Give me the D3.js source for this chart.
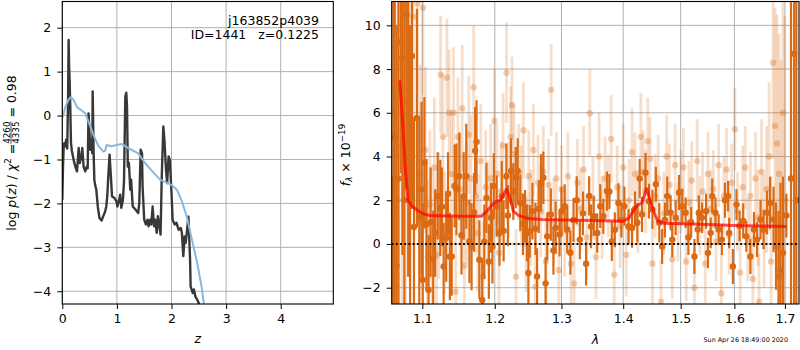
<!DOCTYPE html>
<html>
<head>
<meta charset="utf-8">
<script src="https://cdn.jsdelivr.net/npm/d3@7"></script>
<style>
body { margin: 0; background: #fff; }
svg text { font-family: "DejaVu Sans", sans-serif; }
</style>
</head>
<body>
<svg id="chart" width="800" height="350"></svg>
<script>
// ---- p(z) panel ----
var pzZ = [0, 0.012, 0.024, 0.037, 0.055, 0.07, 0.09, 0.105, 0.116, 0.125,
	0.134, 0.146, 0.159, 0.175, 0.195, 0.215, 0.238, 0.269, 0.285, 0.30,
	0.32, 0.35, 0.366, 0.39, 0.42, 0.45, 0.465, 0.48, 0.495, 0.51,
	0.53, 0.55, 0.556, 0.574, 0.587, 0.605, 0.623, 0.65, 0.68, 0.72,
	0.75, 0.78, 0.806, 0.825, 0.842, 0.866, 0.89, 0.91, 0.95, 0.99,
	1.01, 1.04, 1.06, 1.08, 1.11, 1.13, 1.154, 1.172, 1.185, 1.20,
	1.22, 1.245, 1.26, 1.29, 1.34, 1.39, 1.41, 1.435, 1.46, 1.47,
	1.50, 1.53, 1.56, 1.58, 1.61, 1.63, 1.654, 1.68, 1.70, 1.73,
	1.75, 1.77, 1.80, 1.82, 1.85, 1.87, 1.90, 1.92, 1.947, 1.97,
	2.00, 2.02, 2.06, 2.09, 2.13, 2.17, 2.19, 2.216, 2.24, 2.26,
	2.28, 2.31, 2.34, 2.35, 2.39, 2.41, 2.44, 2.47, 2.51, 2.56];
var pzLog = [-1.92, -1.2, -0.75, -0.63, -0.70, -0.55, -0.75, 0.3, 1.72, 1.1,
	0.81, 0.20, -0.63, -0.8, -0.93, -1.05, -1.16, -1.27, -1.0, -0.74,
	-1.08, -0.93, -0.74, -1.16, -1.27, -1.16, -1.2, 0.05, -0.3, -0.78,
	-0.55, -0.86, 0.55, -0.86, -1.47, -1.6, -1.69, -2.07, -2.33, -2.39,
	-2.29, -2.2, -2.07, -1.8, -1.39, -0.89, -1.39, -1.84, -1.87, -1.95,
	-2.07, -1.92, -1.8, -2.1, -1.92, -1.5, 0.43, 0.52, 0.2, -1.16,
	-1.08, -1.69, -1.46, -2.07, -2.14, -2.22, -1.99, -0.78, -0.86, -1.61,
	-2.37, -2.48, -2.37, -2.52, -2.37, -2.48, -2.07, -2.52, -2.37, -2.67,
	-2.29, -2.44, -2.71, -1.46, -0.25, -0.55, -1.24, -1.54, -0.93, -1.01,
	-1.76, -2.37, -2.48, -2.44, -2.60, -2.56, -2.67, -3.20, -2.75, -2.90,
	-2.67, -2.30, -3.28, -3.89, -4.04, -3.96, -4.13, -4.19, -4.30, -4.7];
var priorZ = [0, 0.02, 0.05, 0.085, 0.12, 0.158, 0.21, 0.27, 0.36, 0.42,
	0.48, 0.57, 0.66, 0.755, 0.785, 0.81, 0.9, 1.0, 1.09, 1.21,
	1.39, 1.515, 1.65, 1.79, 1.9, 2.0, 2.1, 2.19, 2.28, 2.375,
	2.47, 2.55, 2.59, 2.66];
var priorLog = [-0.05, 0.02, 0.17, 0.28, 0.37, 0.42, 0.35, 0.19, 0.11, 0.05,
	-0.14, -0.44, -0.69, -0.82, -0.80, -0.67, -0.70, -0.67, -0.65, -0.74,
	-0.86, -1.08, -1.27, -1.46, -1.52, -1.58, -1.69, -1.95, -2.30, -2.83,
	-3.35, -3.89, -4.26, -4.9];
var zTicks = [0, 1, 2, 3, 4];
var logTicks = [-4, -3, -2, -1, 0, 1, 2];

// ---- spectrum panel ----
var darkWave = [1.0605, 1.0625, 1.0642, 1.0665, 1.0690, 1.0719, 1.0740, 1.0765, 1.0792, 1.0815,
	1.0840, 1.0864, 1.0890, 1.0929, 1.0960, 1.0990, 1.1006, 1.1027, 1.1055, 1.1083,
	1.1110, 1.1145, 1.1170, 1.1205, 1.1240, 1.1262, 1.1285, 1.1320, 1.1345, 1.1370,
	1.1395, 1.1436, 1.1460, 1.1500, 1.1530, 1.1560, 1.1596, 1.1640, 1.1670, 1.1705,
	1.1720, 1.1740, 1.1780, 1.1820, 1.1850, 1.1880, 1.1915, 1.1945, 1.1966, 1.1986,
	1.2027, 1.2068, 1.2101, 1.2128, 1.2168, 1.2190, 1.2236, 1.2270, 1.2306, 1.2334,
	1.2373, 1.2413, 1.2444, 1.2473, 1.2494, 1.2514, 1.2555, 1.2600, 1.2625, 1.2650,
	1.2685, 1.2720, 1.2755, 1.2780, 1.2835, 1.2875, 1.2910, 1.2970, 1.3000, 1.3050,
	1.3090, 1.3140, 1.3190, 1.3240, 1.3290, 1.3340, 1.3390, 1.3440, 1.3470, 1.3513,
	1.3570, 1.3620, 1.3670, 1.3730, 1.3770, 1.3810, 1.3860, 1.3920, 1.3970, 1.4020,
	1.4090, 1.4150, 1.4200, 1.4240, 1.4280, 1.4320, 1.4380, 1.4440, 1.4500, 1.4560,
	1.4620, 1.4670, 1.4720, 1.4760, 1.4820, 1.4850, 1.4910, 1.4970, 1.5030, 1.5090,
	1.5140, 1.5190, 1.5250, 1.5310, 1.5330, 1.5390, 1.5465, 1.5500, 1.5550, 1.5580,
	1.5640, 1.5700, 1.5760, 1.5820, 1.5880, 1.5900, 1.5970, 1.6040, 1.6100, 1.6170,
	1.6230, 1.6310, 1.6380, 1.6440, 1.6510, 1.6570, 1.6640, 1.6700, 1.6770, 1.6820,
	1.6870, 1.6910, 1.6960, 1.7030, 1.7125, 1.7190, 1.7235];
var darkFlux = [0.0, 1.5, 4.87, -1.0, 3.0, 9.24, 8.5, 2.0, 10.5, 6.5,
	3.0, 8.6, 0.78, 5.76, 1.2, 2.5, -1.64, 3.72, 0.9, -2.1,
	1.0, -0.68, 0.5, 2.2, 1.65, 1.7, -1.03, 0.27, 2.3, -0.57,
	-0.57, 2.65, 2.5, 3.1, 0.4, 2.19, 3.1, 0.12, -0.12, 1.45,
	4.26, 4.67, -0.72, -2.56, 0.1, 2.1, -0.8, 1.2, -0.11, 2.65,
	1.73, 0.5, 2.19, 0.6, 3.1, 1.3, 3.34, 2.4, 3.03, 3.34,
	1.88, 0.9, 1.27, 0.5, -1.33, 0.58, 1.5, 0.7, -1.49, 1.6,
	2.8, 3.03, -1.8, 0.35, 1.35, -0.3, 0.74, 0.43, 1.5, 1.73,
	0.66, -0.4, 1.1, 2.0, 0.2, 1.4, -0.9, 2.2, 0.8, 1.27,
	0.5, 1.73, 1.27, 2.42, 2.40, 0.12, 0.65, 1.88, 1.1, 1.73,
	0.8, 0.73, 1.6, 0.97, 2.99, 1.35, 3.26, 1.96, 1.58, 2.73,
	0.97, -0.11, 1.1, 2.19, 1.43, 0.2, 1.2, 2.35, 1.73, 1.43,
	0.3, 1.0, -0.57, 0.66, 1.43, 1.2, 1.5, -0.41, 0.51, 2.19,
	1.43, 0.66, 0.2, 2.0, 2.19, 0.5, -1.03, 1.8, 0.82, 1.05,
	0.35, -0.57, 0.66, 0.2, 1.12, 0.66, 1.43, 1.88, 1.12, -0.1,
	-1.49, -1.2, -0.41, 1.3, 3.0, 8.7, 2.0];
var darkErr = [3.1, 12, 9, 11, 10, 6, 9, 12, 8, 8,
	7, 7, 5, 5, 4.5, 4, 3.5, 3, 3, 2.5,
	2.5, 2.2, 2, 2, 2.2, 1.8, 2, 2, 1.9, 2.0,
	1.8, 1.9, 2.1, 2.0, 1.8, 2.0, 2.4, 1.9, 2.0, 1.8,
	2.0, 1.9, 1.8, 1.9, 1.7, 1.6, 1.7, 1.6, 1.7, 1.5,
	1.4, 1.5, 1.6, 1.4, 1.5, 1.4, 1.5, 1.3, 1.4, 1.5,
	1.3, 1.4, 1.2, 1.3, 1.4, 1.2, 1.3, 1.2, 1.3, 1.1,
	1.3, 1.2, 1.2, 1.1, 1.2, 1.1, 1.2, 1.0, 1.1, 1.0,
	1.1, 1.0, 1.0, 1.1, 0.9, 1.0, 1.0, 0.9, 1.0, 0.9,
	0.9, 1.0, 0.8, 0.9, 0.8, 0.9, 0.8, 0.9, 0.8, 0.9,
	0.8, 0.9, 0.8, 0.9, 0.9, 0.8, 0.9, 0.8, 0.9, 0.8,
	0.9, 0.8, 0.8, 0.9, 0.8, 0.8, 0.8, 0.8, 0.8, 0.7,
	0.8, 0.7, 0.8, 0.7, 0.8, 0.7, 0.8, 0.7, 0.7, 0.8,
	0.7, 0.7, 0.7, 0.8, 0.7, 0.7, 0.8, 0.7, 0.7, 0.8,
	0.7, 0.8, 0.8, 0.8, 0.9, 0.9, 1.0, 1.2, 1.5, 2.0,
	3.0, 4.0, 3.5, 1.0, 20, 20, 20];

var lightWave = [1.0630, 1.0680, 1.0735, 1.0780, 1.0830, 1.0880, 1.0935, 1.0970, 1.1009, 1.1040,
	1.1070, 1.1100, 1.1130, 1.1160, 1.1190, 1.1220, 1.1245, 1.1275, 1.1300, 1.1330,
	1.1360, 1.1390, 1.1420, 1.1450, 1.1480, 1.1510, 1.1540, 1.1570, 1.1600, 1.1630,
	1.1660, 1.1700, 1.1730, 1.1760, 1.1800, 1.1830, 1.1870, 1.1900, 1.1940, 1.1995,
	1.2030, 1.2060, 1.2090, 1.2120, 1.2170, 1.2200, 1.2230, 1.2250, 1.2280, 1.2310,
	1.2350, 1.2390, 1.2420, 1.2460, 1.2500, 1.2530, 1.2570, 1.2600, 1.2640, 1.2680,
	1.2720, 1.2760, 1.2800, 1.2840, 1.2880, 1.2920, 1.2960, 1.3000, 1.3050, 1.3100,
	1.3150, 1.3200, 1.3250, 1.3300, 1.3350, 1.3400, 1.3450, 1.3500, 1.3550, 1.3600,
	1.3650, 1.3700, 1.3750, 1.3800, 1.3850, 1.3900, 1.3950, 1.4000, 1.4050, 1.4100,
	1.4150, 1.4200, 1.4250, 1.4300, 1.4340, 1.4380, 1.4420, 1.4460, 1.4500, 1.4550,
	1.4600, 1.4650, 1.4700, 1.4750, 1.4800, 1.4850, 1.4900, 1.4950, 1.5000, 1.5050,
	1.5100, 1.5150, 1.5200, 1.5250, 1.5300, 1.5350, 1.5400, 1.5450, 1.5500, 1.5550,
	1.5600, 1.5650, 1.5700, 1.5750, 1.5800, 1.5850, 1.5900, 1.5950, 1.6010, 1.6060,
	1.6110, 1.6160, 1.6210, 1.6260, 1.6310, 1.6360, 1.6410, 1.6460, 1.6480, 1.6530,
	1.6580, 1.6630, 1.6680, 1.6720, 1.6760, 1.6800, 1.6840, 1.6880, 1.6920, 1.6960,
	1.7000];
var lightFlux = [6.0, 2.0, 4.5, 4.0, 7.0, 10.4, 11.0, 3.2, 10.8, 4.3,
	-0.6, 1.8, 0.2, 3.5, -0.5, 1.3, 7.74, 4.9, 0.5, 7.6,
	6.0, 3.2, 6.0, -2.18, 4.9, 2.5, 6.2, -1.0, 1.9, 5.0,
	3.0, 7.17, 2.2, 0.5, 3.8, -1.5, 2.6, 1.4, 3.0, 5.63,
	3.2, -0.4, 2.4, 4.5, 7.83, 2.5, 4.9, 6.36, 4.1, -1.5,
	3.3, 2.2, 5.2, 0.0, 3.1, 1.2, 4.3, -1.95, 2.8, 1.5,
	3.3, -0.8, 2.7, 7.05, 1.0, 3.0, -1.2, 2.5, 0.6, 3.1,
	-0.9, -1.8, 2.8, 1.6, 3.4, 0.3, 5.98, 2.1, -0.6, 4.0,
	1.2, 3.0, 2.2, 4.8, -1.4, 2.6, 0.8, 3.5, -0.5, 2.0,
	4.2, 3.2, 1.5, 4.9, 3.3, 2.4, 4.7, 3.9, -0.9, 2.2,
	3.0, -2.64, 1.4, 4.0, 2.7, -0.7, 3.6, 1.0, 2.4, 3.5,
	-0.8, 1.9, 2.9, -2.0, 3.8, 1.3, 2.4, -0.9, 3.2, 1.6,
	2.5, 0.1, 3.6, -2.25, 2.2, 3.4, 0.4, 2.8, 5.25, 1.5,
	-1.3, 2.6, 3.5, 0.2, 2.2, -1.6, 3.0, 1.2, -2.64, 3.3,
	0.6, 2.5, 4.0, -0.8, 8.29, 5.4, 4.6, 3.2, 1.0, 6.0,
	2.0];
var lightErr = [8, 9, 9, 9, 7, 6, 5, 5, 4, 3.8,
	3.5, 3.4, 3.2, 3.2, 3.0, 2.9, 2.7, 2.9, 2.8, 2.7,
	2.9, 2.8, 3.0, 2.8, 2.7, 2.6, 2.9, 2.7, 2.8, 2.7,
	2.9, 2.8, 2.6, 2.7, 2.6, 2.5, 2.6, 2.4, 2.5, 2.4,
	2.3, 2.4, 2.3, 2.4, 2.3, 2.2, 2.3, 2.2, 2.3, 2.2,
	2.2, 2.3, 2.2, 2.2, 2.1, 2.2, 2.1, 2.1, 2.2, 2.1,
	2.1, 2.0, 2.1, 2.1, 2.0, 2.1, 2.0, 2.0, 2.1, 2.0,
	2.0, 2.0, 2.0, 1.9, 2.0, 1.9, 2.0, 1.9, 1.9, 2.0,
	1.9, 1.9, 1.9, 2.0, 1.9, 1.9, 1.9, 2.0, 1.9, 1.9,
	2.0, 1.9, 1.9, 2.0, 1.9, 1.9, 2.0, 1.9, 1.9, 1.9,
	2.0, 1.9, 1.9, 1.9, 1.9, 1.8, 1.9, 1.8, 1.9, 1.8,
	1.8, 1.9, 1.8, 1.8, 1.9, 1.8, 1.8, 1.8, 1.9, 1.8,
	1.8, 1.8, 1.9, 1.8, 1.8, 1.9, 1.8, 1.8, 1.9, 1.8,
	1.9, 1.9, 1.9, 1.9, 2.0, 2.0, 2.1, 2.2, 2.2, 2.4,
	2.6, 2.9, 3.4, 3.9, 4.4, 5.4, 5.9, 6.4, 7.4, 7.4,
	8.4];

var modelWave = [1.0706, 1.0745, 1.0775, 1.0812, 1.086, 1.092, 1.1006, 1.11, 1.15, 1.181,
	1.19, 1.20, 1.208, 1.217, 1.222, 1.227, 1.235, 1.2495, 1.27, 1.30,
	1.35, 1.40, 1.41, 1.4225, 1.432, 1.44, 1.449, 1.455, 1.46, 1.47,
	1.50, 1.55, 1.60, 1.65, 1.703];
var modelFlux = [7.48, 5.5, 3.6, 2.0, 1.75, 1.58, 1.38, 1.30, 1.27, 1.27,
	1.55, 1.91, 2.0, 2.5, 2.1, 1.5, 1.3, 1.16, 1.12, 1.10,
	1.07, 1.04, 1.2, 1.73, 1.9, 2.53, 1.7, 1.3, 1.04, 0.95,
	0.93, 0.89, 0.85, 0.82, 0.80];
var waveTicks = [1.1, 1.2, 1.3, 1.4, 1.5, 1.6, 1.7];
var fluxTicks = [-2, 0, 2, 4, 6, 8, 10];

var titleLines = ["j163852p4039", "ID=1441   z=0.1225"];
var stamp = "Sun Apr 26 18:49:00 2020";

// ---- layout ----
var fontSize = 12.5;
var gridColor = "#b0b0b0";
var orange = "#da6a14";
var pz = {left: 62.3, right: 333.3, top: 1.5, bottom: 304};
var sp = {left: 391.7, right: 799, top: 1.5, bottom: 304};

var svg = d3.select("#chart");

var zScale = d3.scaleLinear().domain([0, 4.963]).range([pz.left, pz.right]);
var logScale = d3.scaleLinear().domain([-4.29, 2.596]).range([pz.bottom, pz.top]);
var waveScale = d3.scaleLog().domain([1.0603, 1.729]).range([sp.left, sp.right]);
var fluxScale = d3.scaleLinear().domain([-2.745, 11.09]).range([sp.bottom, sp.top]);

var defs = svg.append("defs");
function addClip(id, box) {
	defs.append("clipPath").attr("id", id).append("rect")
		.attr("x", box.left).attr("y", box.top)
		.attr("width", box.right - box.left).attr("height", box.bottom - box.top);
}
addClip("clipPz", pz);
addClip("clipSp", sp);

function drawGrid(xs, ys, xt, yt, box) {
	var g = svg.append("g");
	g.selectAll(".gx").data(xt).enter().append("line")
		.attr("x1", function(d) { return xs(d); })
		.attr("x2", function(d) { return xs(d); })
		.attr("y1", box.top).attr("y2", box.bottom)
		.attr("stroke", gridColor).attr("stroke-width", 1);
	g.selectAll(".gy").data(yt).enter().append("line")
		.attr("y1", function(d) { return ys(d); })
		.attr("y2", function(d) { return ys(d); })
		.attr("x1", box.left).attr("x2", box.right)
		.attr("stroke", gridColor).attr("stroke-width", 1);
}

function styleAxis(g) {
	g.attr("font-size", fontSize).attr("font-family", '"DejaVu Sans", sans-serif');
	g.select(".domain").remove();
	g.selectAll(".tick line").attr("stroke", "#000").attr("stroke-width", 1);
	g.selectAll(".tick text").attr("fill", "#000");
}

function drawAxes(xs, ys, xt, yt, xfmt, yfmt, box) {
	svg.append("g")
		.attr("transform", "translate(0," + box.bottom + ")")
		.call(d3.axisBottom(xs).tickValues(xt).tickFormat(xfmt).tickSize(5).tickPadding(5))
		.call(styleAxis);
	svg.append("g")
		.attr("transform", "translate(" + box.left + ",0)")
		.call(d3.axisLeft(ys).tickValues(yt).tickFormat(yfmt).tickSize(5).tickPadding(6))
		.call(styleAxis);
	svg.append("rect")
		.attr("x", box.left).attr("y", box.top)
		.attr("width", box.right - box.left).attr("height", box.bottom - box.top)
		.attr("fill", "none").attr("stroke", "#000").attr("stroke-width", 1.1);
}

// ---- left panel ----
drawGrid(zScale, logScale, zTicks, logTicks, pz);

var pzLayer = svg.append("g").attr("clip-path", "url(#clipPz)");
var pzLine = d3.line()
	.x(function(d, i) { return zScale(pzZ[i]); })
	.y(function(d, i) { return logScale(pzLog[i]); });
pzLayer.append("path").datum(pzZ)
	.attr("d", pzLine)
	.attr("fill", "none").attr("stroke", "#383838")
	.attr("stroke-width", 2.4).attr("stroke-linejoin", "round");
var priorLine = d3.line()
	.x(function(d, i) { return zScale(priorZ[i]); })
	.y(function(d, i) { return logScale(priorLog[i]); });
pzLayer.append("path").datum(priorZ)
	.attr("d", priorLine)
	.attr("fill", "none").attr("stroke", "#8ab8dc")
	.attr("stroke-width", 2).attr("stroke-linejoin", "round");

drawAxes(zScale, logScale, zTicks, logTicks, d3.format("d"), d3.format("d"), pz);

svg.append("g").selectAll("text").data(titleLines).enter().append("text")
	.attr("x", 319).attr("y", function(d, i) { return 24.5 + i * 14.5; })
	.attr("text-anchor", "end").attr("font-size", fontSize)
	.style("white-space", "pre")
	.text(function(d) { return d; });

// ---- right panel ----
drawGrid(waveScale, fluxScale, waveTicks, fluxTicks, sp);

var spLayer = svg.append("g").attr("clip-path", "url(#clipSp)");

function drawErrors(wave, flux, err, width, opacity, dotOpacity) {
	var g = spLayer.append("g");
	g.selectAll("line").data(wave).enter().append("line")
		.attr("x1", function(d) { return waveScale(d); })
		.attr("x2", function(d) { return waveScale(d); })
		.attr("y1", function(d, i) { return fluxScale(flux[i] - err[i]); })
		.attr("y2", function(d, i) { return fluxScale(flux[i] + err[i]); })
		.attr("stroke", orange).attr("stroke-width", width)
		.attr("stroke-opacity", opacity);
	g.selectAll("circle").data(wave).enter().append("circle")
		.attr("cx", function(d) { return waveScale(d); })
		.attr("cy", function(d, i) { return fluxScale(flux[i]); })
		.attr("r", 3.2)
		.attr("fill", orange).attr("fill-opacity", dotOpacity);
}
drawErrors(lightWave, lightFlux, lightErr, 2.8, 0.22, 0.32);
drawErrors(darkWave, darkFlux, darkErr, 2.2, 1, 1);

spLayer.append("line")
	.attr("x1", sp.left).attr("x2", sp.right)
	.attr("y1", fluxScale(0)).attr("y2", fluxScale(0))
	.attr("stroke", "#000").attr("stroke-width", 1.8)
	.attr("stroke-dasharray", "1.8,2.4");

var modelLine = d3.line()
	.x(function(d, i) { return waveScale(modelWave[i]); })
	.y(function(d, i) { return fluxScale(modelFlux[i]); });
spLayer.append("path").datum(modelWave)
	.attr("d", modelLine)
	.attr("fill", "none").attr("stroke", "red").attr("stroke-opacity", 0.7)
	.attr("stroke-width", 3).attr("stroke-linejoin", "round");

drawAxes(waveScale, fluxScale, waveTicks, fluxTicks, d3.format(".1f"), d3.format("d"), sp);

// ---- axis labels ----
svg.append("text")
	.attr("x", (pz.left + pz.right) / 2).attr("y", 343)
	.attr("text-anchor", "middle").attr("font-size", fontSize)
	.attr("font-style", "italic").text("z");
svg.append("text")
	.attr("x", (sp.left + sp.right) / 2).attr("y", 344)
	.attr("text-anchor", "middle").attr("font-size", fontSize)
	.attr("font-style", "italic").text("λ");

svg.append("text")
	.attr("x", 788).attr("y", 342)
	.attr("text-anchor", "end").attr("font-size", 6.4)
	.text(stamp);

// left y label: log p(z) / chi^2 = 4260/4335 = 0.98
var small = fontSize * 0.7;
var yl = svg.append("g");
var t1 = yl.append("text").attr("font-size", fontSize).attr("x", 0).attr("y", 0);
t1.append("tspan").text("log ");
t1.append("tspan").attr("font-style", "italic").text("p");
t1.append("tspan").text("(");
t1.append("tspan").attr("font-style", "italic").text("z");
t1.append("tspan").text(") / ");
t1.append("tspan").attr("font-style", "italic").text("χ");
t1.append("tspan").attr("font-size", small).attr("dy", -5).text("2");
t1.append("tspan").attr("dy", 5).text(" = ");
var w1 = t1.node().getComputedTextLength();
var num = yl.append("text").attr("font-size", small).attr("y", -6).text("4260");
var den = yl.append("text").attr("font-size", small).attr("y", 3).text("4335");
var wf = Math.max(num.node().getComputedTextLength(), den.node().getComputedTextLength());
num.attr("x", w1 + wf / 2).attr("text-anchor", "middle");
den.attr("x", w1 + wf / 2).attr("text-anchor", "middle");
yl.append("line")
	.attr("x1", w1).attr("x2", w1 + wf)
	.attr("y1", -4.5).attr("y2", -4.5)
	.attr("stroke", "#000").attr("stroke-width", 0.7);
var t3 = yl.append("text").attr("font-size", fontSize)
	.attr("x", w1 + wf).attr("y", 0)
	.style("white-space", "pre").text(" = 0.98");
var wTot = w1 + wf + t3.node().getComputedTextLength();
yl.attr("transform", "translate(15.5," + (153 + wTot / 2) + ") rotate(-90)");

// right y label: f_lambda x 10^-19
var yr = svg.append("g");
var t4 = yr.append("text").attr("font-size", fontSize).attr("x", 0).attr("y", 0);
t4.append("tspan").attr("font-style", "italic").text("f");
t4.append("tspan").attr("font-size", small).attr("font-style", "italic").attr("dy", 2.5).text("λ");
t4.append("tspan").attr("dy", -2.5).text(" × 10");
t4.append("tspan").attr("font-size", small).attr("dy", -5).text("−19");
var w4 = t4.node().getComputedTextLength();
yr.attr("transform", "translate(349.5," + (155 + w4 / 2) + ") rotate(-90)");
</script>
</body>
</html>
